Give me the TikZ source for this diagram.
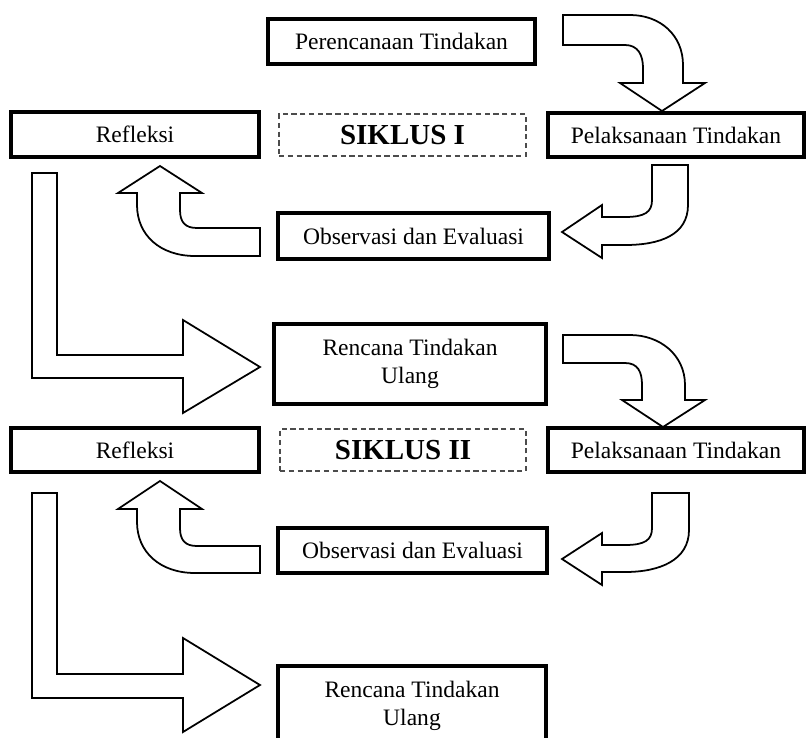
\documentclass[tikz,border=0pt]{standalone}
\usepackage{fontspec}
\setmainfont{Liberation Serif}
\tikzset{
  kotak/.style={draw, line width=2pt, fill=white, align=center, inner sep=2pt,
    font=\fontsize{13.4}{16}\selectfont},
  siklus/.style={draw=black!70, dash pattern=on 3pt off 2pt, line width=0.8pt,
    font=\bfseries\fontsize{16.5}{20}\selectfont},
  panah/.style={draw, line width=1pt, fill=white, line join=miter},
}
\begin{document}
\begin{tikzpicture}[x=0.02cm, y=-0.02cm]
    \useasboundingbox (0,0) rectangle (807,737);

    % Perencanaan
    \node[kotak, minimum width=5.34cm, minimum height=0.9cm] (plan) at (401.5,41.5) {Perencanaan Tindakan};

    % Siklus I
    \node[kotak, minimum width=4.96cm, minimum height=0.9cm] (ref1) at (135,134.5) {Refleksi};
    \node[siklus, minimum width=4.94cm, minimum height=0.84cm] (sik1) at (402.5,135) {SIKLUS I};
    \node[kotak, minimum width=5.12cm, minimum height=0.88cm] (pel1) at (676,135) {Pelaksanaan Tindakan};
    \node[kotak, minimum width=5.42cm, minimum height=0.92cm] (obs1) at (413.5,236) {Observasi dan Evaluasi};
    \node[kotak, minimum width=5.44cm, minimum height=1.6cm] (ren1) at (410,364) {Rencana Tindakan\\Ulang};

    % plan -> pel1
    \draw[panah] (563,15) -- (563,45) -- (625,45) .. controls (638,45) and (643,55) .. (643,68)
        -- (643,83) -- (620,83) -- (662,111) -- (705,83) -- (683,83) -- (683,65)
        .. controls (683,35) and (660,15) .. (630,15) -- cycle;
    % pel1 -> obs1
    \draw[panah] (652,165) -- (688,165) -- (688,205) .. controls (688,235) and (660,245) .. (625,245)
        -- (602,245) -- (602,258) -- (562,232) -- (602,205) -- (602,217) -- (625,217)
        .. controls (645,217) and (652,212) .. (652,200) -- cycle;
    % obs1 -> ref1
    \draw[panah] (260,228) -- (260,256) -- (195,256) .. controls (160,256) and (137,235) .. (137,205)
        -- (137,193) -- (118,193) -- (160,166) -- (202,193) -- (180,193) -- (180,210)
        .. controls (180,222) and (185,228) .. (197,228) -- cycle;
    % ref1 -> ren1
    \draw[panah] (32,173) -- (57,173) -- (57,355) -- (183,355) -- (183,320) -- (260,367)
        -- (183,413) -- (183,378) -- (32,378) -- cycle;

    % Siklus II
    \node[kotak, minimum width=4.96cm, minimum height=0.88cm] (ref2) at (135,450) {Refleksi};
    \node[siklus, minimum width=4.92cm, minimum height=0.84cm] (sik2) at (403,450) {SIKLUS II};
    \node[kotak, minimum width=5.12cm, minimum height=0.88cm] (pel2) at (676,450) {Pelaksanaan Tindakan};
    \node[kotak, minimum width=5.38cm, minimum height=0.9cm] (obs2) at (412.5,550.5) {Observasi dan Evaluasi};
    \node[kotak, minimum width=5.36cm, minimum height=1.6cm] (ren2) at (412,706) {Rencana Tindakan\\Ulang};

    % ren1 -> pel2
    \draw[panah] (563,335) -- (563,363) -- (625,363) .. controls (638,363) and (642,372) .. (642,385)
        -- (642,400) -- (622,400) -- (663,427) -- (705,400) -- (685,400) -- (685,385)
        .. controls (685,355) and (660,335) .. (630,335) -- cycle;
    % pel2 -> obs2
    \draw[panah] (652,493) -- (689,493) -- (689,530) .. controls (689,560) and (660,572) .. (625,572)
        -- (602,572) -- (602,585) -- (562,559) -- (602,533) -- (602,545) -- (625,545)
        .. controls (645,545) and (652,540) .. (652,528) -- cycle;
    % obs2 -> ref2
    \draw[panah] (260,546) -- (260,573) -- (195,573) .. controls (160,573) and (137,552) .. (137,522)
        -- (137,509) -- (118,509) -- (160,481) -- (202,509) -- (180,509) -- (180,528)
        .. controls (180,540) and (185,546) .. (197,546) -- cycle;
    % ref2 -> ren2
    \draw[panah] (32,493) -- (57,493) -- (57,674) -- (183,674) -- (183,638) -- (260,685)
        -- (183,732) -- (183,698) -- (32,698) -- cycle;

\end{tikzpicture}
\end{document}
